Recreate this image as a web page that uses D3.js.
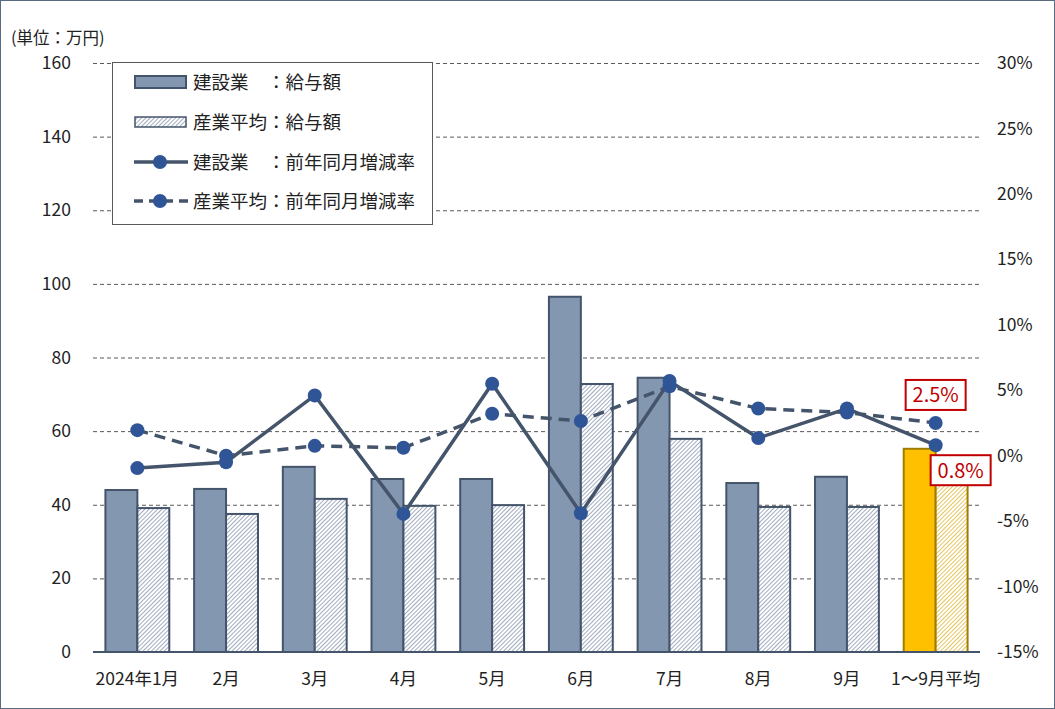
<!DOCTYPE html>
<html><head><meta charset="utf-8">
<script src="https://cdn.jsdelivr.net/npm/d3@7"></script>
<style>
html,body{margin:0;padding:0;background:#fff;}
svg{display:block;font-family:"Noto Sans CJK JP","Noto Sans",sans-serif;}
</style></head>
<body>
<script>
const categories = ["2024年1月","2月","3月","4月","5月","6月","7月","8月","9月","1～9月平均"];
const constructionPay = [44.0,44.3,50.3,47.0,47.0,96.5,74.5,45.9,47.6,55.2];
const industryPay = [39.1,37.5,41.6,39.7,39.9,72.8,57.9,39.4,39.4,46.5];
const constructionRate = [-0.95,-0.5,4.6,-4.45,5.5,-4.4,5.7,1.35,3.6,0.8];
const industryRate = [1.95,0.0,0.75,0.6,3.2,2.65,5.3,3.6,3.3,2.5];
const leftTicks = [0,20,40,60,80,100,120,140,160];
const rightTicks = [-15,-10,-5,0,5,10,15,20,25,30];
const legendLabels = ["建設業　：給与額","産業平均：給与額","建設業　：前年同月増減率","産業平均：前年同月増減率"];
const unitLabel = "(単位：万円)";

const W=1055,H=709;
const dark="#44546A", barFill="#8497B0", marker="#2F5597";
const FS=17.5;
const svg=d3.select("body").append("svg").attr("width",W).attr("height",H);
const defs=svg.append("defs");
function hatch(id,color){
  const s=3;
  const p=defs.append("pattern").attr("id",id).attr("patternUnits","userSpaceOnUse")
    .attr("width",s).attr("height",s).attr("patternTransform","rotate(45)");
  p.append("rect").attr("width",s).attr("height",s).attr("fill","#fff");
  p.append("line").attr("x1",0.5).attr("y1",0).attr("x2",0.5).attr("y2",s)
    .attr("stroke",color).attr("stroke-width",0.9);
}
hatch("hb","#96A3B7");
hatch("hy","#E3BE4E");

svg.append("rect").attr("x",0.5).attr("y",0.5).attr("width",W-1).attr("height",H-1)
  .attr("fill","#fff").attr("stroke","#5A6A80").attr("stroke-width",1);

const x=d3.scaleBand().domain(categories).range([93,980]).paddingInner(0.28).paddingOuter(0.14);
const x1=d3.scaleBand().domain(["c","i"]).range([0,x.bandwidth()]);
const yL=d3.scaleLinear().domain([0,160]).range([652,63]);
const yR=d3.scaleLinear().domain([-15,30]).range([652,63]);
const cx=c=>x(c)+x.bandwidth()/2;

// gridlines
svg.append("g").selectAll("line").data(leftTicks.filter(d=>d>0)).join("line")
  .attr("x1",93).attr("x2",980).attr("y1",d=>yL(d)+0.5).attr("y2",d=>yL(d)+0.5)
  .attr("stroke","#595959").attr("stroke-width",1).attr("stroke-dasharray","4,3");

// left axis labels
const axL=svg.append("g").attr("transform","translate(71,0)")
  .call(d3.axisLeft(yL).tickValues(leftTicks).tickSize(0).tickPadding(0));
axL.select(".domain").remove();
axL.selectAll("text").attr("font-size",FS).attr("fill","#222").attr("font-family","'Noto Sans CJK JP',sans-serif");

// right axis labels
const axR=svg.append("g").attr("transform","translate(997,0)")
  .call(d3.axisRight(yR).tickValues(rightTicks).tickSize(0).tickPadding(0).tickFormat(d=>d+"%"));
axR.select(".domain").remove();
axR.selectAll("text").attr("font-size",FS).attr("fill","#222").attr("font-family","'Noto Sans CJK JP',sans-serif");

// bars
const last=categories[categories.length-1];
svg.append("g").selectAll("rect").data(categories).join("rect")
  .attr("x",c=>x(c)+x1("c")).attr("width",x1.bandwidth())
  .attr("y",(c,i)=>yL(constructionPay[i])).attr("height",(c,i)=>yL(0)-yL(constructionPay[i]))
  .attr("fill",c=>c===last?"#FFC000":barFill).attr("stroke",c=>c===last?"#A07D00":dark).attr("stroke-width",2);
svg.append("g").selectAll("rect").data(categories).join("rect")
  .attr("x",c=>x(c)+x1("i")).attr("width",x1.bandwidth())
  .attr("y",(c,i)=>yL(industryPay[i])).attr("height",(c,i)=>yL(0)-yL(industryPay[i]))
  .attr("fill",c=>c===last?"url(#hy)":"url(#hb)").attr("stroke",c=>c===last?"#A07D00":dark).attr("stroke-width",2);

// x axis line
svg.append("line").attr("x1",93).attr("x2",980).attr("y1",652).attr("y2",652)
  .attr("stroke",dark).attr("stroke-width",2);
// x labels
svg.append("g").selectAll("text").data(categories).join("text")
  .attr("x",cx).attr("y",685).attr("text-anchor","middle").attr("font-size",FS).attr("fill","#222").text(d=>d);

// lines
const line=d3.line().x(d=>cx(d.c)).y(d=>yR(d.v));
const dInd=categories.map((c,i)=>({c,v:industryRate[i]}));
const dCon=categories.map((c,i)=>({c,v:constructionRate[i]}));
svg.append("path").datum(dInd).attr("d",line).attr("fill","none").attr("stroke",dark)
  .attr("stroke-width",3.5).attr("stroke-dasharray","11,7");
svg.append("path").datum(dCon).attr("d",line).attr("fill","none").attr("stroke",dark).attr("stroke-width",3.5);
svg.append("g").selectAll("circle").data(dInd).join("circle")
  .attr("cx",d=>cx(d.c)).attr("cy",d=>yR(d.v)).attr("r",7).attr("fill",marker);
svg.append("g").selectAll("circle").data(dCon).join("circle")
  .attr("cx",d=>cx(d.c)).attr("cy",d=>yR(d.v)).attr("r",7).attr("fill",marker);

// annotations
function callout(xc,yc,txt){
  const g=svg.append("g");
  g.append("rect").attr("x",xc-30).attr("y",yc-15).attr("width",60).attr("height",30)
    .attr("fill","#fff").attr("stroke","#C00000").attr("stroke-width",2);
  g.append("text").attr("x",xc).attr("y",yc+7.5).attr("text-anchor","middle").attr("font-size",20)
    .attr("fill","#C00000").text(txt);
}
const li=industryRate.length-1;
callout(cx(last),yR(industryRate[li])-28,industryRate[li].toFixed(1)+"%");
callout(cx(last)+25,yR(constructionRate[li])+25,constructionRate[li].toFixed(1)+"%");

// unit label
svg.append("text").attr("x",11).attr("y",44).attr("font-size",16.5).attr("fill","#222").text(unitLabel);

// legend
const lg=svg.append("g");
lg.append("rect").attr("x",112.5).attr("y",62.5).attr("width",320).attr("height",162)
  .attr("fill","#fff").attr("stroke","#595959").attr("stroke-width",1);
const rowsY=[82,122,162,201];
lg.append("rect").attr("x",135).attr("y",rowsY[0]-6).attr("width",51).attr("height",12)
  .attr("fill",barFill).attr("stroke",dark).attr("stroke-width",2);
lg.append("rect").attr("x",135).attr("y",rowsY[1]-5).attr("width",51).attr("height",10)
  .attr("fill","url(#hb)").attr("stroke",dark).attr("stroke-width",1.5);
lg.append("line").attr("x1",134).attr("x2",188).attr("y1",rowsY[2]).attr("y2",rowsY[2]).attr("stroke",dark).attr("stroke-width",3.5);
lg.append("circle").attr("cx",160).attr("cy",rowsY[2]).attr("r",7).attr("fill",marker);
lg.append("line").attr("x1",134).attr("x2",188).attr("y1",rowsY[3]).attr("y2",rowsY[3]).attr("stroke",dark).attr("stroke-width",3.5).attr("stroke-dasharray","9,6");
lg.append("circle").attr("cx",160).attr("cy",rowsY[3]).attr("r",7).attr("fill",marker);
lg.selectAll("text.l").data(legendLabels).join("text").attr("class","l")
  .attr("x",193).attr("y",(d,i)=>rowsY[i]+6.5).attr("font-size",18.5).attr("fill","#222")
  .attr("xml:space","preserve").style("white-space","pre").text(d=>d);
</script>
</body></html>
